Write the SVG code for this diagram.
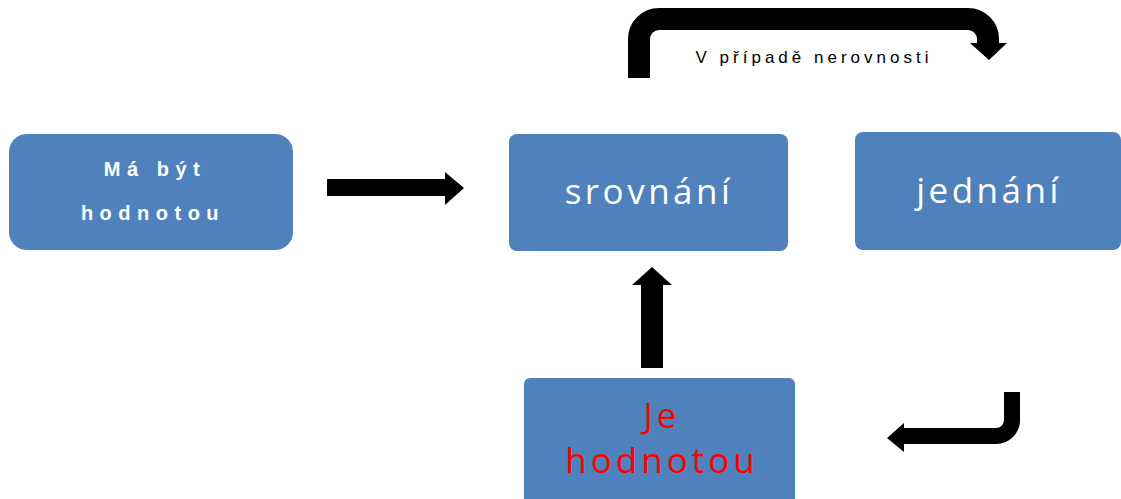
<svg xmlns="http://www.w3.org/2000/svg" width="1121" height="499" viewBox="0 0 1121 499">
<style>
.box{fill:#4F81BD}
.t{font-family:"Open Sans","Liberation Sans",sans-serif;fill:#fff;text-anchor:middle;letter-spacing:3.5px;font-size:35px}
.r{fill:#FF0000;letter-spacing:4px}
.sp{font-family:"Liberation Sans",sans-serif;fill:#fff;text-anchor:middle;font-weight:bold;letter-spacing:6.5px;font-size:20px}
.arr{fill:none;stroke:#000}
.head{fill:#000}
</style>
<rect width="1121" height="499" fill="#fff"/>
<g id="node-ma-byt">
<rect class="box" x="9" y="134" width="284" height="116" rx="18"/>
<text class="sp" x="155" y="176">Má být</text>
<text class="sp" x="153" y="220">hodnotou</text>
</g>
<g id="node-srovnani">
<rect class="box" x="509" y="134" width="279" height="117" rx="8"/>
<text class="t" x="649" y="204">srovnání</text>
</g>
<g id="node-jednani">
<rect class="box" x="855" y="132" width="266" height="118" rx="8"/>
<text class="t" x="989" y="203">jednání</text>
</g>
<g id="node-je-hodnotou">
<rect class="box" x="524" y="378" width="271" height="130" rx="6"/>
<text class="t r" x="662" y="428">Je</text>
<text class="t r" x="662" y="473">hodnotou</text>
</g>
<g id="connectors">
<rect x="327" y="179" width="119" height="17" fill="#000"/>
<polygon class="head" points="445,172 464,188 445,205"/>
<rect x="641" y="284" width="22" height="84" fill="#000"/>
<polygon class="head" points="632,285 652,267 672,285"/>
<path class="arr" stroke-width="22" d="M639,78 V39 A20,20 0 0 1 659,19 H968 A20,20 0 0 1 988,39 V44"/>
<polygon class="head" points="970,43 1007,43 989,60"/>
<text x="814" y="63" font-family="Liberation Sans, sans-serif" font-size="17" fill="#000" text-anchor="middle" letter-spacing="4">V případě nerovnosti</text>
<path class="arr" stroke-width="16" d="M1012,392 V420 A16,16 0 0 1 996,436 H903"/>
<polygon class="head" points="904,423 887,438 904,452"/>
</g>
</svg>
